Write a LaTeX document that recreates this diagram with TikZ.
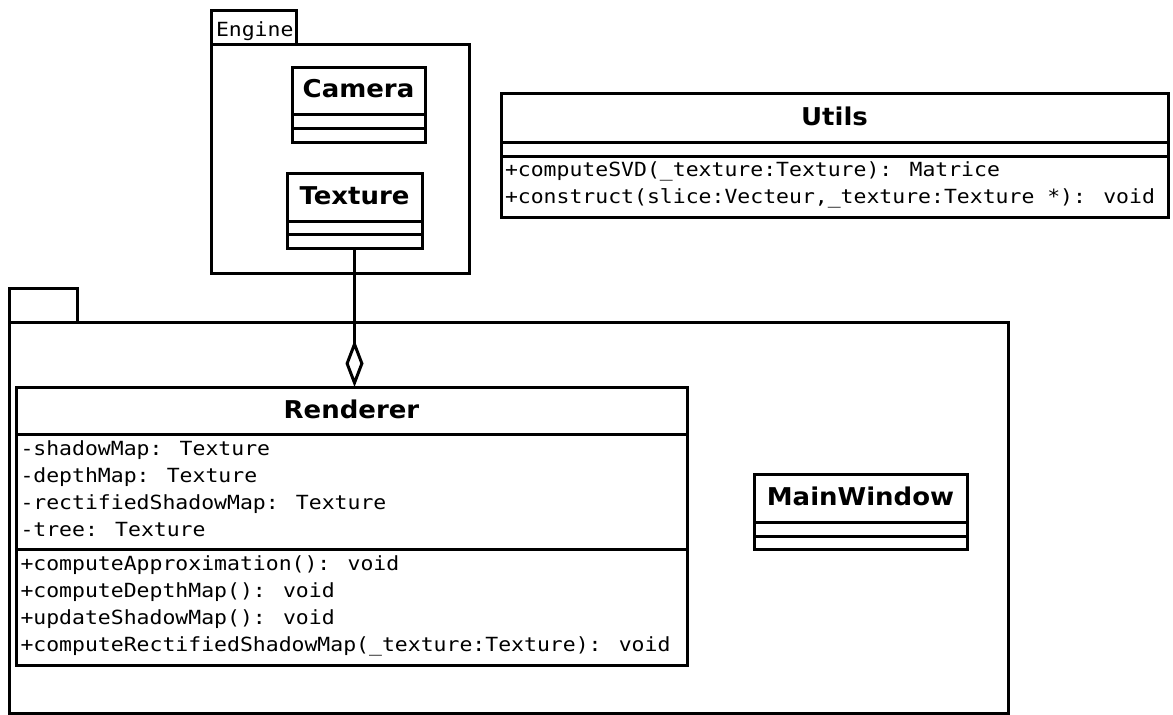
\documentclass[tikz,border=0pt]{standalone}
\usepackage{fontspec}
\newfontfamily\umlmono[FakeStretch=1.1]{DejaVu Sans Mono}
\newfontfamily\umlsans[FakeStretch=1.06]{DejaVu Sans}
\usetikzlibrary{arrows.meta, calc}

\begin{document}
\begin{tikzpicture}[x=1pt, y=-1pt, line width=3pt,
  pkgbox/.style={draw, inner sep=0pt, outer sep=0pt, anchor=north west},
  umlclass/.style={draw, inner sep=0pt, outer sep=0pt, anchor=north west},
  clsname/.style={inner sep=0pt, font=\umlsans\bfseries\fontsize{24.5}{29}\selectfont},
  member/.style={inner sep=0pt, anchor=base west, font=\umlmono\fontsize{19.5}{27}\selectfont}]
  \useasboundingbox (0,0) rectangle (1173,715);

  % packages
  \node[pkgbox, minimum width=85pt, minimum height=34pt] (enginetab) at (211,10) {};
  \node[pkgbox, minimum width=258pt, minimum height=229pt] (engine) at (211,44) {};
  \node[member] (enginelabel) at (214.5,36) {Engine};
  \node[pkgbox, minimum width=68pt, minimum height=34pt] (maintab) at (9,288) {};
  \node[pkgbox, minimum width=999pt, minimum height=391pt] (mainpkg) at (9,322) {};

  % Engine classes
  \node[umlclass, minimum width=133pt, minimum height=75pt] (camera) at (292,67) {};
  \draw ($(camera.north west)+(0,47)$) -- ($(camera.north east)+(0,47)$);
  \draw ($(camera.north west)+(0,61)$) -- ($(camera.north east)+(0,61)$);
  \node[clsname] (cameraname) at ($(camera.north)+(0,22)$) {Camera};

  \node[umlclass, minimum width=135pt, minimum height=75pt] (texture) at (287,173) {};
  \draw ($(texture.north west)+(0,48)$) -- ($(texture.north east)+(0,48)$);
  \draw ($(texture.north west)+(0,61)$) -- ($(texture.north east)+(0,61)$);
  \node[clsname] (texturename) at ($(texture.north)+(0,22.5)$) {Texture};

  % Utils
  \node[umlclass, minimum width=667pt, minimum height=124pt] (utils) at (501,93) {};
  \draw ($(utils.north west)+(0,49)$) -- ($(utils.north east)+(0,49)$);
  \draw ($(utils.north west)+(0,63)$) -- ($(utils.north east)+(0,63)$);
  \node[clsname] (utilsname) at ($(utils.north)+(0,23)$) {Utils};
  \foreach \txt [count=\i] in {{+computeSVD(\_texture:Texture): Matrice},
      {+construct(slice:Vecteur,\_texture:Texture *): void}}
    \node[member] (utilsop\i) at ($(utils.north west)+(2.5,{83+27*(\i-1)})$) {\txt};

  % Renderer
  \node[umlclass, minimum width=671pt, minimum height=278pt] (renderer) at (16,387) {};
  \draw ($(renderer.north west)+(0,47)$) -- ($(renderer.north east)+(0,47)$);
  \draw ($(renderer.north west)+(0,162)$) -- ($(renderer.north east)+(0,162)$);
  \node[clsname] (renderername) at ($(renderer.north)+(0,22)$) {Renderer};
  \foreach \txt [count=\i] in {{-shadowMap: Texture}, {-depthMap: Texture},
      {-rectifiedShadowMap: Texture}, {-tree: Texture}}
    \node[member] (rendererattr\i) at ($(renderer.north west)+(3,{68+27*(\i-1)})$) {\txt};
  \foreach \txt [count=\i] in {{+computeApproximation(): void}, {+computeDepthMap(): void},
      {+updateShadowMap(): void}, {+computeRectifiedShadowMap(\_texture:Texture): void}}
    \node[member] (rendererop\i) at ($(renderer.north west)+(3,{183+27*(\i-1)})$) {\txt};

  % MainWindow
  \node[umlclass, minimum width=213pt, minimum height=75pt] (mainwindow) at (754,474) {};
  \draw ($(mainwindow.north west)+(0,48)$) -- ($(mainwindow.north east)+(0,48)$);
  \draw ($(mainwindow.north west)+(0,62)$) -- ($(mainwindow.north east)+(0,62)$);
  \node[clsname] (mainwindowname) at ($(mainwindow.north)+(0,22.5)$) {MainWindow};

  % aggregation
  \draw[{Diamond[open, length=47pt, width=18pt]}-] (texture.south |- renderer.north) -- (texture.south);
\end{tikzpicture}
\end{document}
